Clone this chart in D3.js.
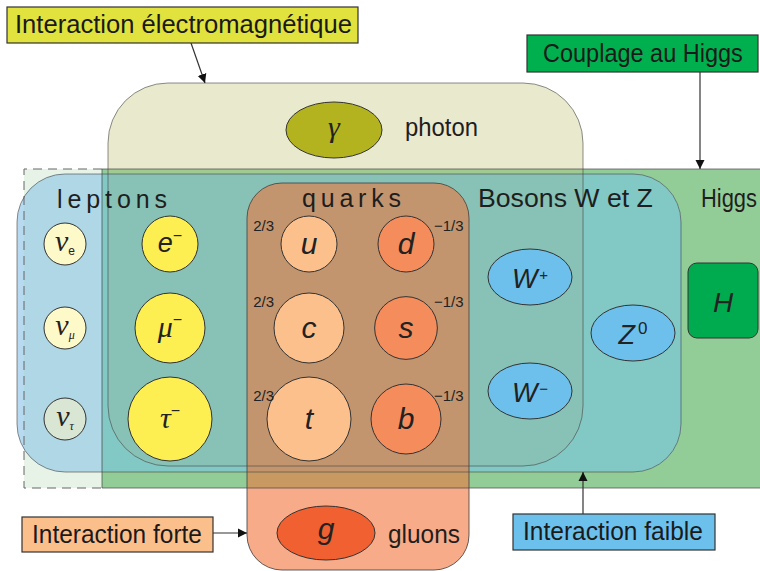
<!DOCTYPE html>
<html><head><meta charset="utf-8">
<script src="https://cdn.jsdelivr.net/npm/d3@7"></script>
<style>body{margin:0;background:#fff}svg{display:block}</style>
</head><body><svg id="c" width="760" height="571"></svg>
<script>
// ---------- data ----------
const generations = [1, 2, 3];
const neutrinos = [
  {name:"nu_e", sym:"ν", sub:"e", gen:1, massRank:0.75},
  {name:"nu_mu", sym:"ν", sub:"μ", gen:2, massRank:0.75},
  {name:"nu_tau", sym:"ν", sub:"τ", gen:3, massRank:0.75}
];
const chargedLeptons = [
  {name:"e", sym:"e", sup:"−", gen:1, massRank:1.0},
  {name:"mu", sym:"μ", sup:"−", gen:2, massRank:1.25},
  {name:"tau", sym:"τ", sup:"−", gen:3, massRank:1.5}
];
const upQuarks = [
  {name:"u", sym:"u", gen:1, massRank:1.0, charge:"2/3"},
  {name:"c", sym:"c", gen:2, massRank:1.25, charge:"2/3"},
  {name:"t", sym:"t", gen:3, massRank:1.5, charge:"2/3"}
];
const downQuarks = [
  {name:"d", sym:"d", gen:1, massRank:1.0, charge:"−1/3"},
  {name:"s", sym:"s", gen:2, massRank:1.12, charge:"−1/3"},
  {name:"b", sym:"b", gen:3, massRank:1.25, charge:"−1/3"}
];
const weakBosons = [
  {name:"Wp", sym:"W", sup:"+", col:"W", row:"a"},
  {name:"Wm", sym:"W", sup:"−", col:"W", row:"b"},
  {name:"Z", sym:"Z", sup:"0", col:"Z", row:"m"}
];
const groupTitles = ["leptons", "quarks", "Bosons W et Z", "Higgs", "photon", "gluons"];
const interactionLabels = ["Interaction électromagnétique", "Couplage au Higgs", "Interaction forte", "Interaction faible"];

// ---------- scales ----------
const rowY = d3.scaleOrdinal().domain(generations).range([244, 328, 419]);
const bosonY = d3.scaleOrdinal().domain(["a","m","b"]).range([277, 333, 391]);
const colX = d3.scaleOrdinal()
  .domain(["neutrino","lepton","up","down","W","Z","H","photon","gluon"])
  .range([65, 170, 309, 406, 530, 633, 723, 334, 326]);
const rScale = d3.scaleLinear().domain([0, 1]).range([0, 28]);
const fillColor = d3.scaleOrdinal()
  .domain(["nu_e","nu_mu","nu_tau","e","mu","tau","u","c","t","d","s","b","Wp","Wm","Z","H","gamma","g"])
  .range(["#fef9c9","#fef9c9","#d8e6d3","#fdee52","#fdee52","#fdee52","#fcc08d","#fcc08d","#fcc08d",
          "#f58c5c","#f58c5c","#f58c5c","#6dc0ec","#6dc0ec","#6dc0ec","#00ab4f","#b3b320","#f06030"]);

const svg = d3.select("#c");
const defs = svg.append("defs");
const SANS = "'Liberation Sans', Arial, Helvetica, sans-serif";
const SERIF = "'Liberation Serif', 'Times New Roman', serif";

// region shapes (layout)
const R = {
  pale:   {x:24,  y:169, w:800, h:319, r:0},
  green:  {x:102, y:169, w:700, h:319, r:0},
  em:     {x:108, y:83,  w:475, h:383, r:60},
  weak:   {x:17,  y:174, w:664, h:298, r:48},
  strong: {x:247, y:183, w:222, h:387, r:35}
};
Object.entries(R).forEach(([k, s]) => {
  defs.append("clipPath").attr("id", "clip-" + k)
    .append("rect").attr("x", s.x).attr("y", s.y).attr("width", s.w).attr("height", s.h).attr("rx", s.r);
});
function rr(sel, s, fill) {
  return sel.append("rect").attr("x", s.x).attr("y", s.y).attr("width", s.w).attr("height", s.h)
    .attr("rx", s.r).attr("fill", fill);
}
const clip = (sel, k) => sel.append("g").attr("clip-path", `url(#clip-${k})`);

// condensed text: measure natural width and scale horizontally to target width
function fitText(sel, x, y, len, txt, size) {
  const t = sel.append("text").attr("x", 0).attr("y", 0).attr("font-size", size).text(txt);
  const w = t.node().getComputedTextLength();
  t.attr("transform", `translate(${x},${y}) scale(${len / w},1)`);
  return t;
}

// ---------- region fills ----------
const fills = svg.append("g");
rr(fills, R.pale, "#e6f3e6");
rr(fills, R.green, "#92cd97");
rr(fills, R.em, "#e8e9cd");
rr(clip(fills, "em"), R.green, "#9fca92");
rr(fills, R.weak, "#b7daf0");
const wk = clip(fills, "weak");
rr(wk, R.pale, "#b0d7e6");
rr(wk, R.green, "#82c8c4");
rr(clip(wk, "em"), R.green, "#88c2b6");
rr(fills, R.strong, "#f8ab88");
const st = clip(fills, "strong");
rr(st, R.green, "#c89a62");
rr(clip(st, "weak"), R.strong, "#c3956f");

// ---------- outlines ----------
const ol = svg.append("g").attr("fill", "none").attr("stroke", "#444").attr("stroke-width", 1);
ol.append("path").attr("d", `M${R.green.x},${R.pale.y}H${R.pale.x}V${R.pale.y + R.pale.h}H${R.green.x}`)
  .attr("stroke", "#666").attr("stroke-dasharray", "9,6");
ol.append("path").attr("d", `M770,${R.green.y}H${R.green.x}V${R.green.y + R.green.h}H770`).attr("stroke-opacity", 0.7);
["em", "weak", "strong"].forEach(k => {
  const s = R[k];
  ol.append("rect").attr("x", s.x).attr("y", s.y).attr("width", s.w).attr("height", s.h).attr("rx", s.r)
    .attr("stroke-opacity", k === "strong" ? 0.85 : 0.6);
});

// ---------- group titles ----------
const titles = svg.append("g").attr("font-family", SANS).attr("fill", "#1e1e1e");
const titlePos = [
  {x:57, y:208, len:110}, {x:302, y:207, len:99}, {x:478, y:207, len:175},
  {x:701, y:207, len:56}, {x:405, y:136, len:73}, {x:388, y:543, len:72}
];
groupTitles.forEach((t, i) => {
  const p = titlePos[i];
  if (i < 2) {
    titles.append("text").attr("x", p.x).attr("y", p.y).attr("font-size", 25).text(t)
      .attr("textLength", p.len).attr("lengthAdjust", "spacing");
  } else {
    fitText(titles, p.x, p.y, p.len, t, 25);
  }
});

// ---------- particles ----------
const parts = svg.append("g");
function circ(x, y, r, name) {
  parts.append("circle").attr("cx", x).attr("cy", y).attr("r", r)
    .attr("fill", fillColor(name)).attr("stroke", "#333").attr("stroke-width", 1);
}
function ell(x, y, rx, ry, name) {
  parts.append("ellipse").attr("cx", x).attr("cy", y).attr("rx", rx).attr("ry", ry)
    .attr("fill", fillColor(name)).attr("stroke", "#333").attr("stroke-width", 1);
}
function sym(x, y, main, opts) {
  const t = parts.append("text").attr("x", x).attr("y", y).attr("text-anchor", "middle").attr("fill", "#222");
  t.append("tspan").attr("font-family", opts.serif ? SERIF : SANS).attr("font-style", "italic")
    .attr("font-size", opts.size).text(main);
  if (opts.sub) t.append("tspan").attr("font-family", opts.subSerif ? SERIF : SANS)
    .attr("font-style", opts.subSerif ? "italic" : "normal")
    .attr("font-size", 12).attr("dy", 4).text(opts.sub);
  if (opts.sup) t.append("tspan").attr("font-family", SANS).attr("font-size", opts.supSize || 15)
    .attr("dx", opts.supDx || 0).attr("dy", opts.supDy || -10).text(opts.sup);
}

neutrinos.forEach(d => {
  const x = colX("neutrino"), y = rowY(d.gen);
  circ(x, y, rScale(d.massRank), d.name);
  sym(x, y + 7, d.sym, {serif:true, size:30, sub:d.sub, subSerif: d.sub !== "e"});
});
chargedLeptons.forEach(d => {
  const x = colX("lepton"), y = rowY(d.gen);
  circ(x, y, rScale(d.massRank), d.name);
  const isE = d.sym === "e";
  sym(x, y + (isE ? 8 : 9), d.sym, {serif: !isE, size: isE ? 27 : 30, sup:d.sup, supDy: isE ? -11 : -12, supSize:16});
});
upQuarks.forEach(d => {
  const x = colX("up"), y = rowY(d.gen);
  circ(x, y, rScale(d.massRank), d.name);
  sym(x, y + 10, d.sym, {size:30});
});
downQuarks.forEach(d => {
  const x = colX("down"), y = rowY(d.gen);
  circ(x, y, rScale(d.massRank), d.name);
  sym(x, y + 10, d.sym, {size:30});
});
// charges
const ch = svg.append("g").attr("font-family", SANS).attr("font-size", 15).attr("fill", "#222");
const chOff = d3.scaleOrdinal().domain(generations).range([-13, -21, -18]);
upQuarks.forEach(d => ch.append("text").attr("x", 274).attr("y", rowY(d.gen) + chOff(d.gen))
  .attr("text-anchor", "end").text(d.charge));
downQuarks.forEach(d => ch.append("text").attr("x", 434).attr("y", rowY(d.gen) + chOff(d.gen))
  .text(d.charge));

weakBosons.forEach(d => {
  const x = colX(d.col), y = bosonY(d.row);
  ell(x, y, 42, 28, d.name);
  sym(x, y + 11, d.sym, {size:27, sup:d.sup, supDx: d.sup === "0" ? 3 : 2, supDy: d.sup === "0" ? -10 : -8, supSize: d.sup === "0" ? 17 : 15});
});
// Higgs
{
  const x = colX("H"), y = 300.5;
  parts.append("rect").attr("x", x - 35).attr("y", y - 37.5).attr("width", 70).attr("height", 75).attr("rx", 9)
    .attr("fill", fillColor("H")).attr("stroke", "#333");
  sym(x, y + 11, "H", {size:28});
}
// photon
ell(colX("photon"), 130, 48, 28, "gamma");
sym(colX("photon"), 137, "γ", {serif:true, size:30});
// gluon
ell(colX("gluon"), 533, 49, 27, "g");
sym(colX("gluon"), 539, "g", {size:30});

// ---------- interaction labels + arrows ----------
defs.append("marker").attr("id", "arr").attr("viewBox", "0 0 10 10").attr("refX", 10).attr("refY", 5)
  .attr("markerWidth", 9).attr("markerHeight", 11).attr("markerUnits", "userSpaceOnUse").attr("orient", "auto")
  .append("path").attr("d", "M0,0L10,5L0,10Z").attr("fill", "#111");
const lab = svg.append("g").attr("font-family", SANS).attr("fill", "#1a1a1a");
const labelBoxes = [
  {x:7, y:7, w:351, h:36, fill:"#e1e23e", tx:15, ty:33, len:337},
  {x:527, y:35, w:231, h:37, fill:"#00b04f", tx:543, ty:62, len:200},
  {x:22, y:517, w:191, h:35, fill:"#fbbf8c", tx:32, ty:543, len:170},
  {x:513, y:514, w:202, h:36, fill:"#6cc0ec", tx:523, ty:540, len:180}
];
const arrows = [
  [191, 43, 205, 83], [700, 72, 700, 169], [213, 533, 247, 533], [583, 514, 583, 472]
];
arrows.forEach(a => lab.append("line").attr("x1", a[0]).attr("y1", a[1]).attr("x2", a[2]).attr("y2", a[3])
  .attr("stroke", "#333").attr("stroke-width", 1.2).attr("marker-end", "url(#arr)"));
interactionLabels.forEach((t, i) => {
  const b = labelBoxes[i];
  lab.append("rect").attr("x", b.x).attr("y", b.y).attr("width", b.w).attr("height", b.h)
    .attr("fill", b.fill).attr("stroke", "#333").attr("stroke-width", 1.2);
  fitText(lab, b.tx, b.ty, b.len, t, 26);
});
</script></body></html>
